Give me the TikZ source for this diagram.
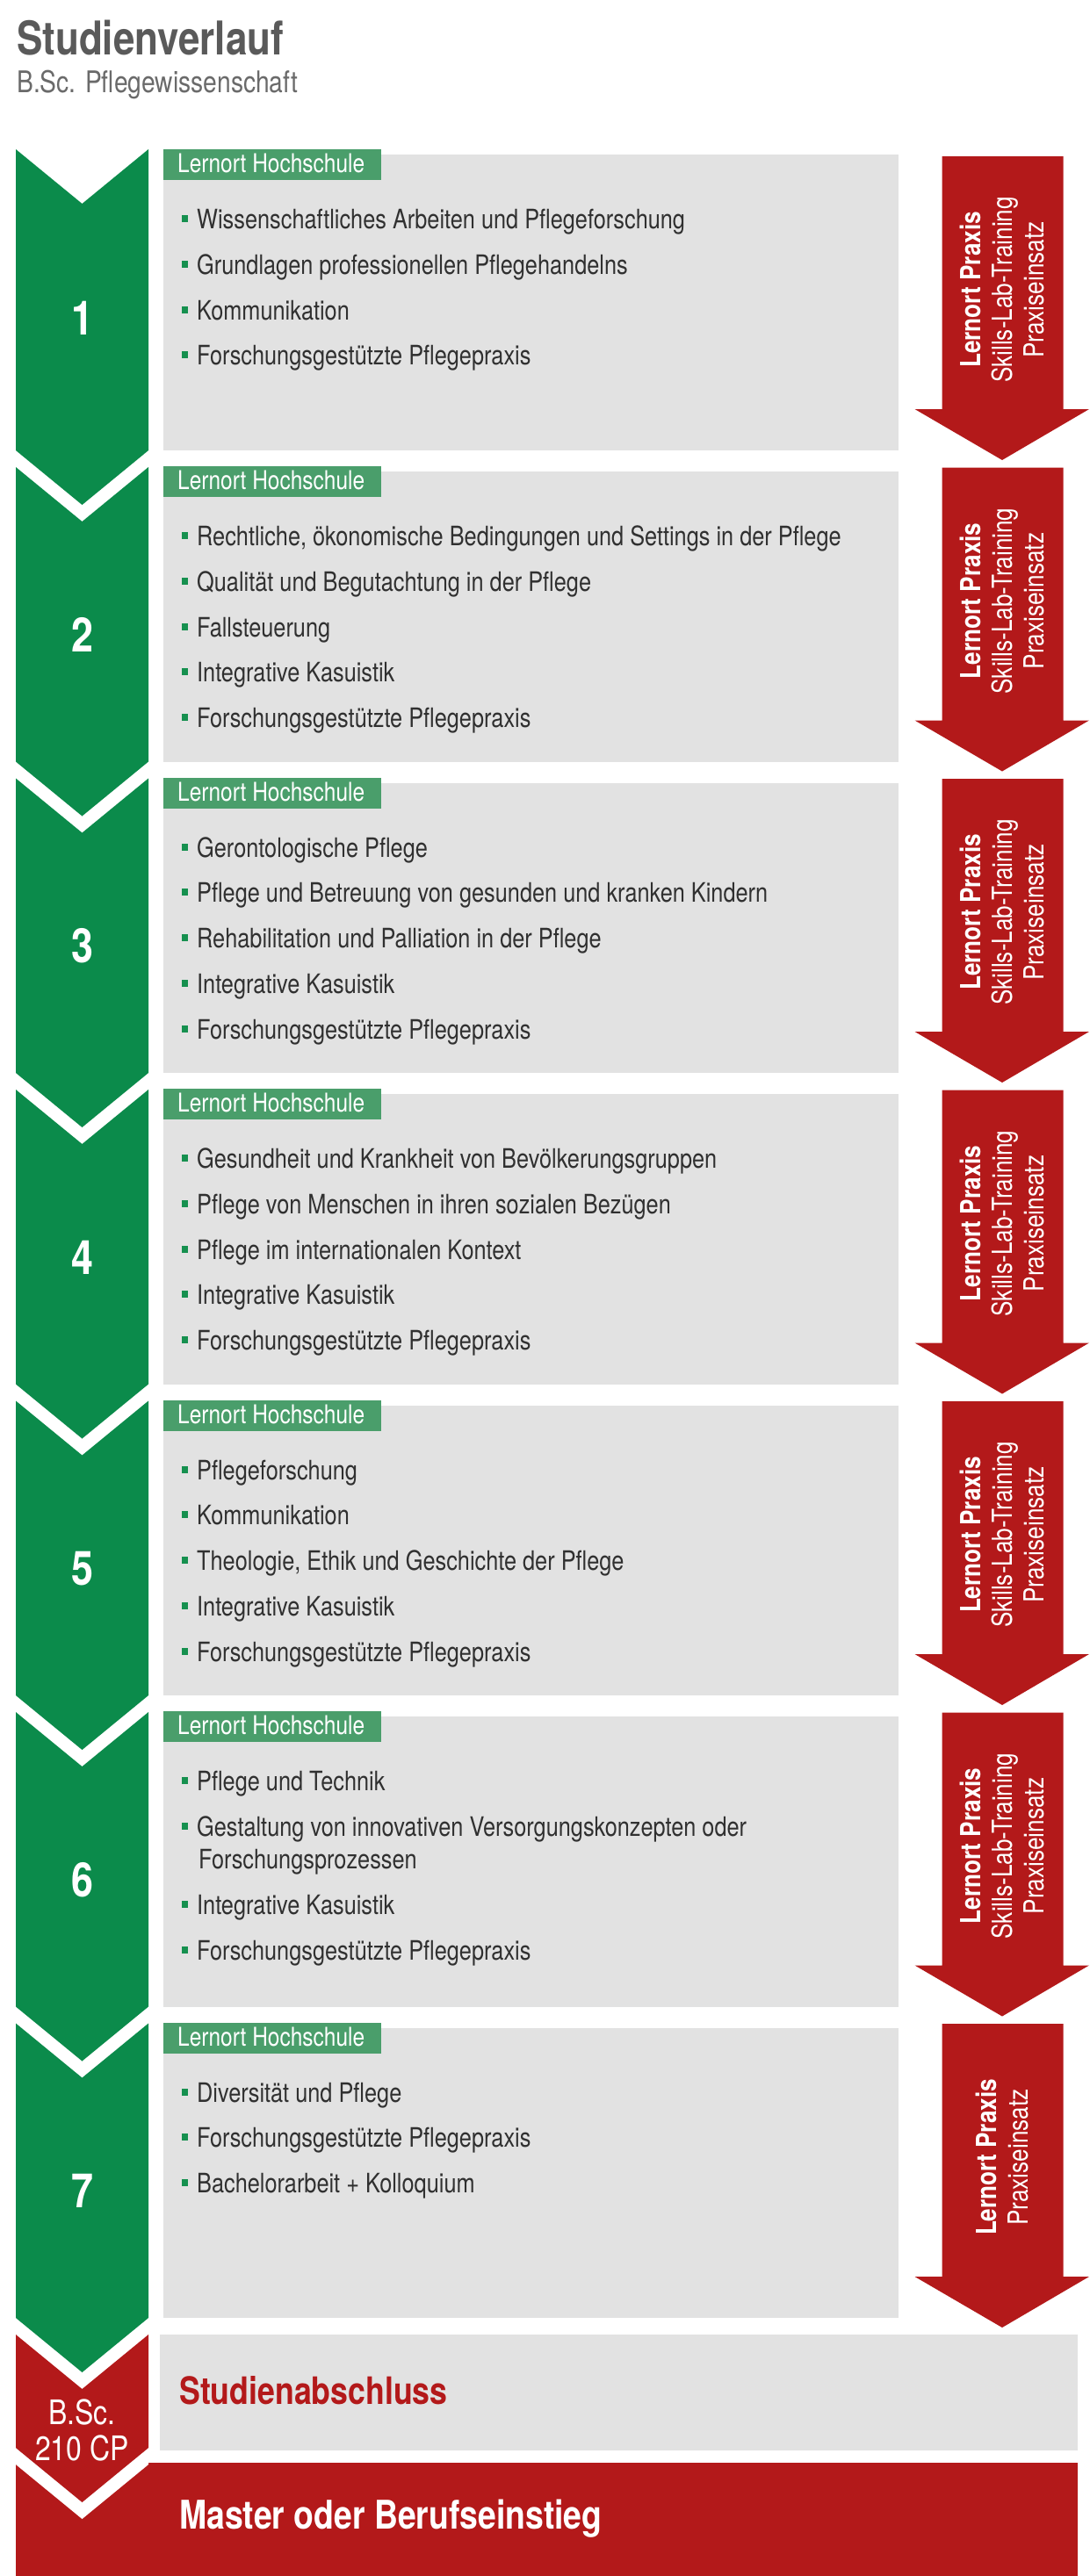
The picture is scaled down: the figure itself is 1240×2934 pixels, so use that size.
\documentclass[tikz,border=0pt]{standalone}
\usepackage{fontspec}
\setmainfont{TeX Gyre Heros}[FakeStretch=0.83]
\definecolor{cgreen}{HTML}{0B8B4B}
\definecolor{clabel}{HTML}{4A9E6B}
\definecolor{cbullet}{HTML}{16904F}
\definecolor{cgrey}{HTML}{E2E2E2}
\definecolor{cred}{HTML}{B3191A}
\definecolor{ctitle}{HTML}{5A5A5A}
\definecolor{csub}{HTML}{6A6A6A}
\definecolor{ctext}{HTML}{303030}
\tikzset{
  chevfill/.style={fill=cgreen},
  greybox/.style={fill=cgrey},
  labelfill/.style={fill=clabel},
  arrowfill/.style={fill=cred},
  numtext/.style={inner sep=0pt,text=white,font=\bfseries\fontsize{54}{60}\selectfont},
  labeltext/.style={anchor=base west,inner sep=0pt,text=white,font=\fontsize{29.5}{34}\selectfont},
  itemtext/.style={anchor=base west,inner sep=0pt,text=ctext,font=\fontsize{30.5}{36.5}\selectfont},
  praxis/.style={rotate=90,inner sep=0pt,text=white,align=center,font=\fontsize{31.5}{36}\selectfont},
  titletext/.style={anchor=base west,inner sep=0pt,text=ctitle,font=\bfseries\fontsize{53}{60}\selectfont},
  subtext/.style={anchor=base west,inner sep=0pt,text=csub,font=\fontsize{34}{40}\selectfont},
  abschluss/.style={anchor=base west,inner sep=0pt,text=cred,font=\bfseries\fontsize{43}{50}\selectfont},
  mastertext/.style={anchor=base west,inner sep=0pt,text=white,font=\bfseries\fontsize{45}{52}\selectfont},
  bsctext/.style={anchor=base,inner sep=0pt,text=white,font=\fontsize{38.5}{44}\selectfont}
}
% #1 number, #2 label top, #3 grey bottom, #4 chevron top
\newcommand\semrow[4]{%
  \fill[chevfill] (18,#4) -- (93.5,#4+62) -- (169,#4) -- (169,#3) -- (93.5,#3+62) -- (18,#3) -- cycle;
  \node[numtext] (num#1) at (93.5,#2+192) {#1};
  \fill[greybox] (186,#2+6) rectangle (1023,#3);
  \fill[labelfill] (186,#2) rectangle (434,#2+35);
  \node[labeltext] (lbl#1) at (202,#2+26.5) {Lernort Hochschule};
  \fill[arrowfill] (1072.5,#3-335) -- (1210.5,#3-335) -- (1210.5,#3-47) -- (1240,#3-47) -- (1141,#3+11) -- (1041.5,#3-47) -- (1072.5,#3-47) -- cycle;
}
% #1 name, #2 baseline, #3 text
\newcommand\bitem[3]{%
  \fill[cbullet] (206.5,#2-15.5) rectangle (213.5,#2-7.5);
  \node[itemtext] (#1) at (224,#2) {#3};
}
\begin{document}
\begin{tikzpicture}[x=1pt,y=-1pt]
\useasboundingbox (0,0) rectangle (1240,2934);
\node[titletext] (title) at (19,62) {Studienverlauf};
\node[subtext] (subtitle) at (19,105) {B.Sc. Pflegewissenschaft};

% Row 1
\semrow{1}{170}{513}{170}
\bitem{r1a}{260.5}{Wissenschaftliches Arbeiten und Pflegeforschung}
\bitem{r1b}{312.3}{Grundlagen professionellen Pflegehandelns}
\bitem{r1c}{364.1}{Kommunikation}
\bitem{r1d}{415.9}{Forschungsgestützte Pflegepraxis}
\node[praxis] (px1) at (1141,330) {\textbf{Lernort Praxis}\\Skills-Lab-Training\\Praxiseinsatz};

% Row 2
\semrow{2}{531}{867.5}{532}
\bitem{r2a}{621.5}{Rechtliche, ökonomische Bedingungen und Settings in der Pflege}
\bitem{r2b}{673.3}{Qualität und Begutachtung in der Pflege}
\bitem{r2c}{725.1}{Fallsteuerung}
\bitem{r2d}{776.9}{Integrative Kasuistik}
\bitem{r2e}{828.7}{Forschungsgestützte Pflegepraxis}
\node[praxis] (px2) at (1141,684.5) {\textbf{Lernort Praxis}\\Skills-Lab-Training\\Praxiseinsatz};

% Row 3
\semrow{3}{885.5}{1222}{886.5}
\bitem{r3a}{976}{Gerontologische Pflege}
\bitem{r3b}{1027.8}{Pflege und Betreuung von gesunden und kranken Kindern}
\bitem{r3c}{1079.6}{Rehabilitation und Palliation in der Pflege}
\bitem{r3d}{1131.4}{Integrative Kasuistik}
\bitem{r3e}{1183.2}{Forschungsgestützte Pflegepraxis}
\node[praxis] (px3) at (1141,1039) {\textbf{Lernort Praxis}\\Skills-Lab-Training\\Praxiseinsatz};

% Row 4
\semrow{4}{1240}{1576.5}{1241}
\bitem{r4a}{1330.5}{Gesundheit und Krankheit von Bevölkerungsgruppen}
\bitem{r4b}{1382.3}{Pflege von Menschen in ihren sozialen Bezügen}
\bitem{r4c}{1434.1}{Pflege im internationalen Kontext}
\bitem{r4d}{1485.9}{Integrative Kasuistik}
\bitem{r4e}{1537.7}{Forschungsgestützte Pflegepraxis}
\node[praxis] (px4) at (1141,1393.5) {\textbf{Lernort Praxis}\\Skills-Lab-Training\\Praxiseinsatz};

% Row 5
\semrow{5}{1594.5}{1931}{1595.5}
\bitem{r5a}{1685}{Pflegeforschung}
\bitem{r5b}{1736.8}{Kommunikation}
\bitem{r5c}{1788.6}{Theologie, Ethik und Geschichte der Pflege}
\bitem{r5d}{1840.4}{Integrative Kasuistik}
\bitem{r5e}{1892.2}{Forschungsgestützte Pflegepraxis}
\node[praxis] (px5) at (1141,1748) {\textbf{Lernort Praxis}\\Skills-Lab-Training\\Praxiseinsatz};

% Row 6
\semrow{6}{1949}{2285.5}{1950}
\bitem{r6a}{2039.5}{Pflege und Technik}
\bitem{r6b}{2091.8}{Gestaltung von innovativen Versorgungskonzepten oder}
\node[itemtext] (r6b2) at (226,2128.3) {Forschungsprozessen};
\bitem{r6c}{2180.1}{Integrative Kasuistik}
\bitem{r6d}{2232}{Forschungsgestützte Pflegepraxis}
\node[praxis] (px6) at (1141,2102.5) {\textbf{Lernort Praxis}\\Skills-Lab-Training\\Praxiseinsatz};

% Row 7
\semrow{7}{2303.5}{2640}{2304.5}
\bitem{r7a}{2394}{Diversität und Pflege}
\bitem{r7b}{2445.8}{Forschungsgestützte Pflegepraxis}
\bitem{r7c}{2497.6}{Bachelorarbeit + Kolloquium}
\node[praxis] (px7) at (1141,2457) {\textbf{Lernort Praxis}\\Praxiseinsatz};

% Final section
\fill[cred] (17.5,2805) rectangle (1227,2934);
\fill[white] (18,2788) -- (169,2788) -- (169,2807) -- (93.5,2869) -- (18,2807) -- cycle;
\fill[cred] (18,2659) -- (93.5,2721) -- (169,2659) -- (169,2788) -- (93.5,2850) -- (18,2788) -- cycle;
\node[bsctext] (bsc1) at (93.5,2761) {B.Sc.};
\node[bsctext] (bsc2) at (93.5,2802) {210 CP};
\fill[greybox] (182,2659) rectangle (1227,2791);
\node[abschluss] (absch) at (204,2738) {Studienabschluss};
\node[mastertext] (master) at (204,2880) {Master oder Berufseinstieg};
\end{tikzpicture}
\end{document}
